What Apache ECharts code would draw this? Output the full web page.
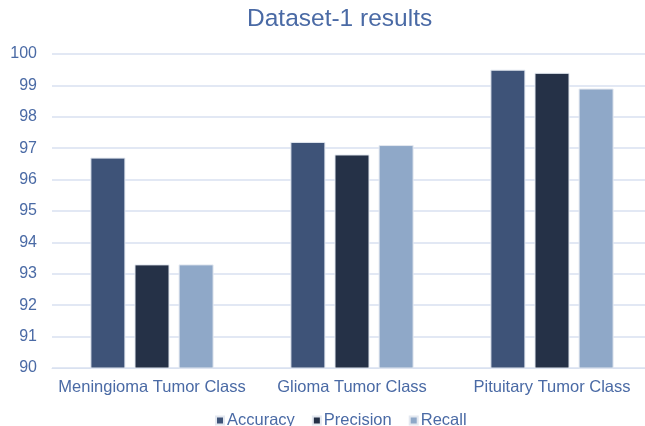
<!DOCTYPE html>
<html>
<head>
<meta charset="utf-8">
<script src="https://cdn.jsdelivr.net/npm/echarts@6/dist/echarts.min.js"></script>
<style>
  html, body { margin: 0; padding: 0; background: #fff; }
  #chart { width: 645px; height: 426px; }
</style>
</head>
<body>
<div id="chart"></div>
<script>
// 类别和数据
var categories = ["Meningioma Tumor Class", "Glioma Tumor Class", "Pituitary Tumor Class"];
var accuracy = [96.7, 97.2, 99.5];
var precision = [93.3, 96.8, 99.4];
var recall = [93.3, 97.1, 98.9];
var seriesNames = ["Accuracy", "Precision", "Recall"];
var colorArr = ["#3e5378", "#253147", "#8fa8c8"];

var textColor = "#4a6aa5";
var font = "Liberation Sans, Arial, sans-serif";

var chart = echarts.init(document.getElementById("chart"), null, { renderer: "canvas" });

function bar(name, data, color) {
    return {
        name: name,
        type: "bar",
        data: data,
        barWidth: 35,
        barGap: "26%",
        itemStyle: {
            color: color,
            borderColor: "#e3e8f0",
            borderWidth: 1
        }
    };
}

var option = {
    backgroundColor: "#ffffff",
    animation: false,
    title: {
        text: "Dataset-1 results",
        left: 247,
        top: 7,
        padding: 0,
        textStyle: {
            color: textColor,
            fontFamily: font,
            fontSize: 24.5,
            fontWeight: "normal"
        }
    },
    legend: {
        top: 407,
        left: 210,
        itemWidth: 8,
        itemHeight: 8,
        itemGap: 17,
        icon: "rect",
        textStyle: { color: textColor, fontFamily: font, fontSize: 16.5, padding: [0, 0, 0, -2] },
        data: seriesNames
    },
    grid: {
        left: 52,
        right: -7,
        top: 54,
        bottom: 58,
        outerBoundsMode: "none",
        containLabel: false
    },
    xAxis: {
        type: "category",
        data: categories,
        axisLine: { lineStyle: { color: "#d9e1f0", width: 1 } },
        axisTick: { show: false },
        axisLabel: {
            color: textColor,
            fontFamily: font,
            fontSize: 16.5,
            margin: 11,
            interval: 0
        }
    },
    yAxis: {
        type: "value",
        min: 90,
        max: 100,
        interval: 1,
        axisLine: { show: false },
        axisTick: { show: false },
        axisLabel: {
            color: textColor,
            fontFamily: font,
            fontSize: 16,
            margin: 15
        },
        splitLine: { lineStyle: { color: "#d9e1f0", width: 1.5 } }
    },
    series: [
        bar(seriesNames[0], accuracy, colorArr[0]),
        bar(seriesNames[1], precision, colorArr[1]),
        bar(seriesNames[2], recall, colorArr[2])
    ]
};

chart.setOption(option);
</script>
</body>
</html>
